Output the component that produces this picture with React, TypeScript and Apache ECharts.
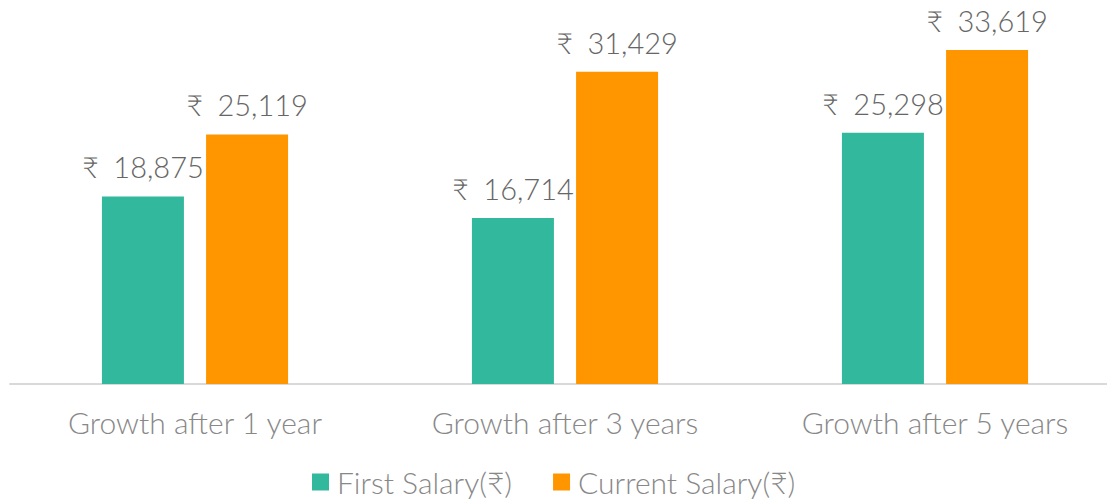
import React, { useEffect, useRef } from "react";
import * as echarts from "echarts";

const categories = ["Growth after 1 year", "Growth after 3 years", "Growth after 5 years"];
const firstSalary = [18875, 16714, 25298];
const currentSalary = [25119, 31429, 33619];
const seriesNames = ["First Salary(₹)", "Current Salary(₹)"];

const FONT = "'Lato Light', Lato";

export default function App() {
  const ref = useRef<HTMLDivElement>(null);
  useEffect(() => {
    if (!ref.current) return;
    const chart = echarts.init(ref.current, null, { renderer: "svg" });
    const fmt = (p: any) => "₹\u2002" + Number(p.value).toLocaleString("en-IN");
    const label = {
      show: true,
      position: "top",
      distance: 15,
      formatter: fmt,
      color: "#666666",
      fontFamily: FONT,
      fontWeight: 300,
      fontSize: 29,
      lineHeight: 29,
    };
    chart.setOption({
      animation: false,
      grid: { left: 10, top: 6.5, width: 1110, height: 377.5 },
      legend: {
        left: 312,
        top: 467,
        padding: 0,
        itemWidth: 17,
        itemHeight: 17,
        itemGap: 41,
        icon: "rect",
        textStyle: {
          color: "#888888",
          fontFamily: FONT,
          fontWeight: 300,
          fontSize: 30,
          lineHeight: 30,
          padding: [0, 0, 0, 3],
        },
        data: seriesNames,
      },
      xAxis: {
        type: "category",
        data: categories,
        axisLine: { lineStyle: { color: "#d9d9d9", width: 2 } },
        axisTick: { show: false },
        axisLabel: {
          color: "#888888",
          fontFamily: FONT,
          fontWeight: 300,
          fontSize: 30,
          lineHeight: 30,
          margin: 23,
        },
      },
      yAxis: {
        type: "value",
        min: 0,
        max: 38000,
        show: false,
        splitLine: { show: false },
      },
      series: [
        {
          name: seriesNames[0],
          type: "bar",
          data: firstSalary,
          barWidth: 82,
          barGap: "27%",
          itemStyle: { color: "#32B89C" },
          label,
        },
        {
          name: seriesNames[1],
          type: "bar",
          data: currentSalary,
          barWidth: 82,
          itemStyle: { color: "#FF9600" },
          label,
        },
      ],
    });
    return () => chart.dispose();
  }, []);
  return (
    <div style={{ width: 1107, height: 503, position: "absolute", left: 0, top: 0, overflow: "hidden" }}>
      <div ref={ref} style={{ width: 1130, height: 503 }} />
    </div>
  );
}
